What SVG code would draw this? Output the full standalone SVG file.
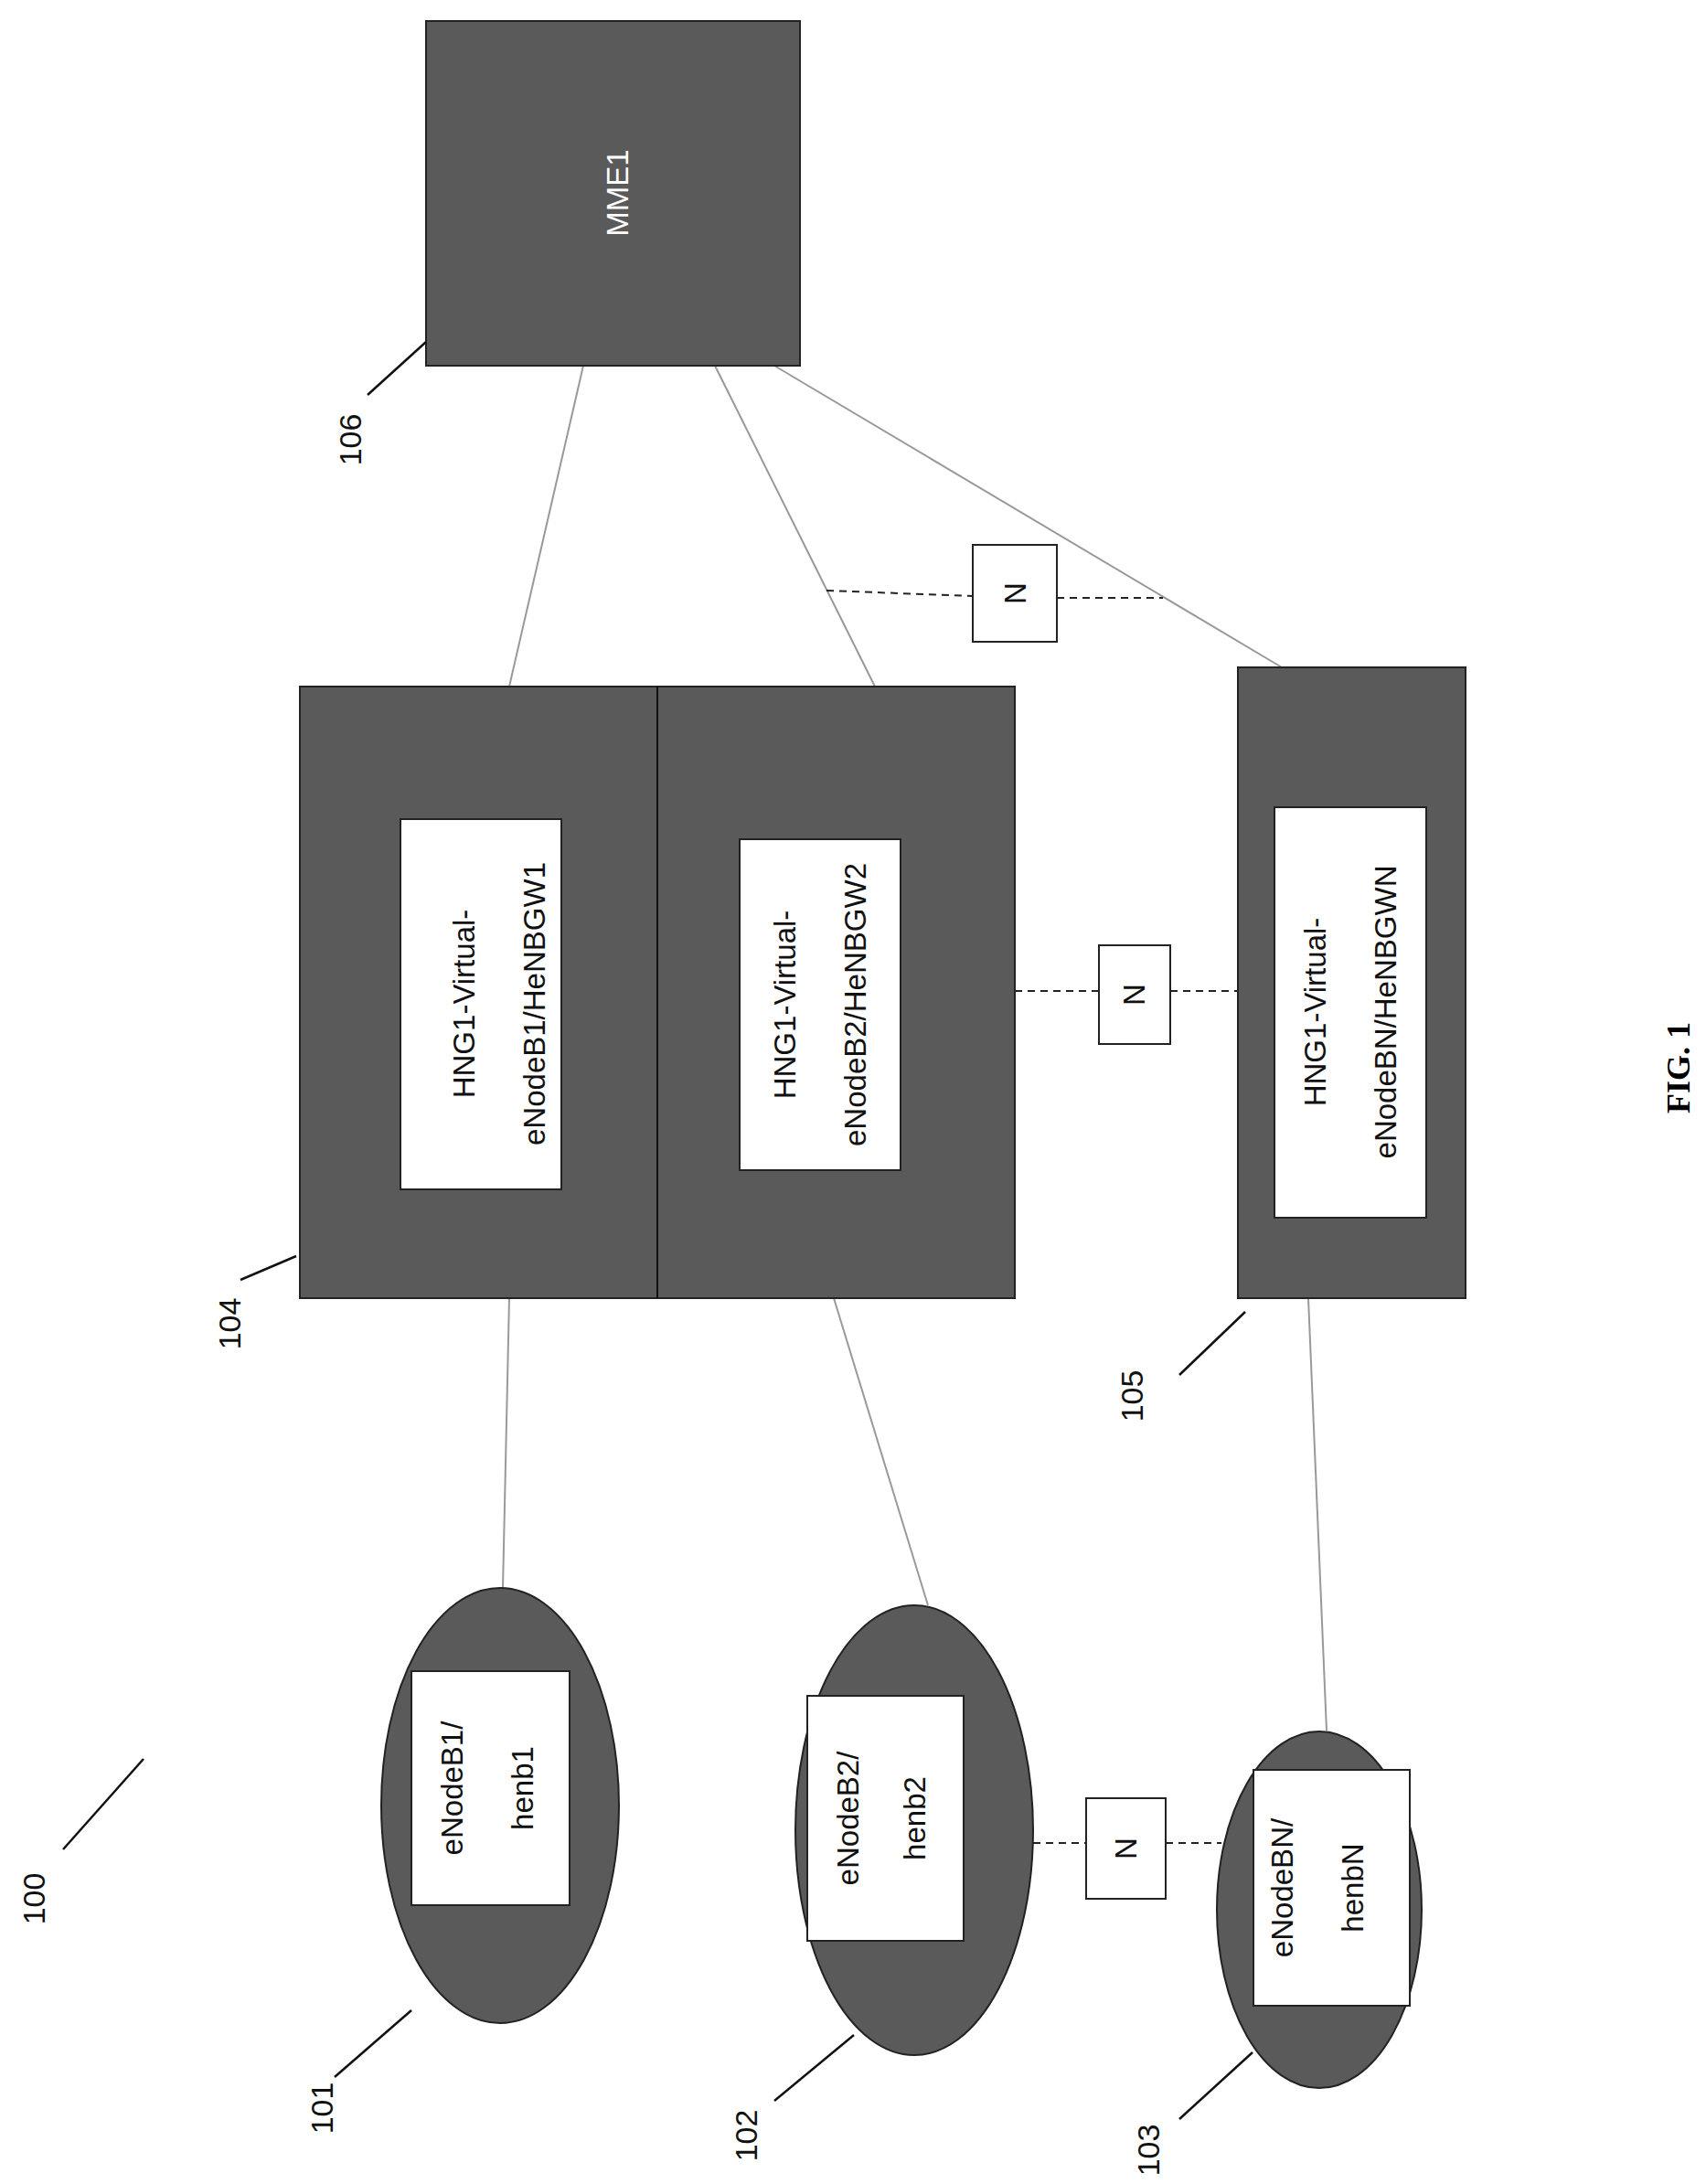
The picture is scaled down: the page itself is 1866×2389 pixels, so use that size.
<svg xmlns="http://www.w3.org/2000/svg" width="1866" height="2389" viewBox="0 0 1866 2389">
<style>
.dk{fill:#5a5a5a;stroke:#222;stroke-width:2}
.wb{fill:#fff;stroke:#222;stroke-width:2}
.t{font-family:"Liberation Sans",Arial,sans-serif;font-size:33px;text-anchor:middle;fill:#111}
.lbl{font-family:"Liberation Sans",Arial,sans-serif;font-size:34px;text-anchor:middle;fill:#111}
.ln{stroke:#999;stroke-width:2;fill:none}
.ds{stroke:#222;stroke-width:2;stroke-dasharray:8,6;fill:none}
.ld{stroke:#111;stroke-width:2.5}
</style>
<rect width="1866" height="2389" fill="#fff"/>
<g id="connectors">
<line class="ln" x1="638" y1="400" x2="557" y2="751"/>
<line class="ln" x1="782" y1="400" x2="957" y2="751"/>
<line class="ln" x1="847" y1="400" x2="1402" y2="730"/>
<line class="ds" x1="904" y1="646" x2="1064" y2="652"/>
<line class="ds" x1="1156" y1="654" x2="1272" y2="654"/>
<line class="ds" x1="1110" y1="1084" x2="1202" y2="1084"/>
<line class="ds" x1="1280" y1="1084" x2="1354" y2="1084"/>
<line class="ln" x1="557" y1="1420" x2="550" y2="1737"/>
<line class="ln" x1="912" y1="1420" x2="1015" y2="1756"/>
<line class="ln" x1="1431" y1="1420" x2="1451" y2="1893"/>
<line class="ds" x1="1130" y1="2016" x2="1188" y2="2016"/>
<line class="ds" x1="1275" y1="2016" x2="1336" y2="2016"/>
</g>
<g id="mme1"><rect class="dk" x="466" y="23" width="409" height="377"/>
<text class="t" transform="translate(687,211) rotate(-90)" style="fill:#fff">MME1</text></g>
<g id="n104"><rect class="dk" x="328" y="751" width="782" height="669"/>
<line x1="719" y1="751" x2="719" y2="1420" stroke="#111" stroke-width="2"/>
<rect class="wb" x="438" y="896" width="176" height="405"/>
<text class="t" transform="translate(519,1098) rotate(-90)">HNG1-Virtual-</text>
<text class="t" transform="translate(596,1098) rotate(-90)">eNodeB1/HeNBGW1</text>
<rect class="wb" x="809" y="918" width="176" height="362"/>
<text class="t" transform="translate(870,1099) rotate(-90)">HNG1-Virtual-</text>
<text class="t" transform="translate(947,1099) rotate(-90)">eNodeB2/HeNBGW2</text></g>
<g id="n105"><rect class="dk" x="1354" y="730" width="249" height="690"/>
<rect class="wb" x="1394" y="883" width="166" height="449"/>
<text class="t" transform="translate(1450,1107) rotate(-90)">HNG1-Virtual-</text>
<text class="t" transform="translate(1527,1107) rotate(-90)">eNodeBN/HeNBGWN</text></g>
<g id="n101"><ellipse class="dk" cx="547" cy="1975" rx="130" ry="238"/>
<rect class="wb" x="450" y="1828" width="173" height="256"/>
<text class="t" transform="translate(506,1956) rotate(-90)">eNodeB1/</text>
<text class="t" transform="translate(583,1956) rotate(-90)">henb1</text></g>
<g id="n102"><ellipse class="dk" cx="1000" cy="2002" rx="130" ry="246"/>
<rect class="wb" x="883" y="1855" width="171" height="268"/>
<text class="t" transform="translate(939,1989) rotate(-90)">eNodeB2/</text>
<text class="t" transform="translate(1012,1989) rotate(-90)">henb2</text></g>
<g id="n103"><ellipse class="dk" cx="1443" cy="2089" rx="112" ry="195"/>
<rect class="wb" x="1371" y="1936" width="171" height="258"/>
<text class="t" transform="translate(1414,2065) rotate(-90)">eNodeBN/</text>
<text class="t" transform="translate(1491,2065) rotate(-90)">henbN</text></g>
<g id="nbox1"><rect class="wb" x="1064" y="596" width="92" height="106"/><text class="t" transform="translate(1122,649) rotate(-90)">N</text></g>
<g id="nbox2"><rect class="wb" x="1202" y="1034" width="78" height="108"/><text class="t" transform="translate(1252,1088) rotate(-90)">N</text></g>
<g id="nbox3"><rect class="wb" x="1188" y="1967" width="87" height="110"/><text class="t" transform="translate(1243,2022) rotate(-90)">N</text></g>
<g id="labels">
<text class="lbl" transform="translate(49,2077) rotate(-90)">100</text><line class="ld" x1="69" y1="2023" x2="157" y2="1924"/>
<text class="lbl" transform="translate(364,2306) rotate(-90)">101</text><line class="ld" x1="366" y1="2272" x2="450" y2="2199"/>
<text class="lbl" transform="translate(828,2336) rotate(-90)">102</text><line class="ld" x1="847" y1="2298" x2="934" y2="2226"/>
<text class="lbl" transform="translate(1268,2352) rotate(-90)">103</text><line class="ld" x1="1290" y1="2318" x2="1370" y2="2245"/>
<text class="lbl" transform="translate(263,1448) rotate(-90)">104</text><line class="ld" x1="263" y1="1400" x2="324" y2="1374"/>
<text class="lbl" transform="translate(1250,1527) rotate(-90)">105</text><line class="ld" x1="1290" y1="1504" x2="1362" y2="1435"/>
<text class="lbl" transform="translate(395,481) rotate(-90)">106</text><line class="ld" x1="402" y1="432" x2="466" y2="374"/>
<text transform="translate(1848,1168) rotate(-90)" font-family="Liberation Serif,serif" font-weight="bold" font-size="36" text-anchor="middle">FIG. 1</text>
</g>
</svg>
